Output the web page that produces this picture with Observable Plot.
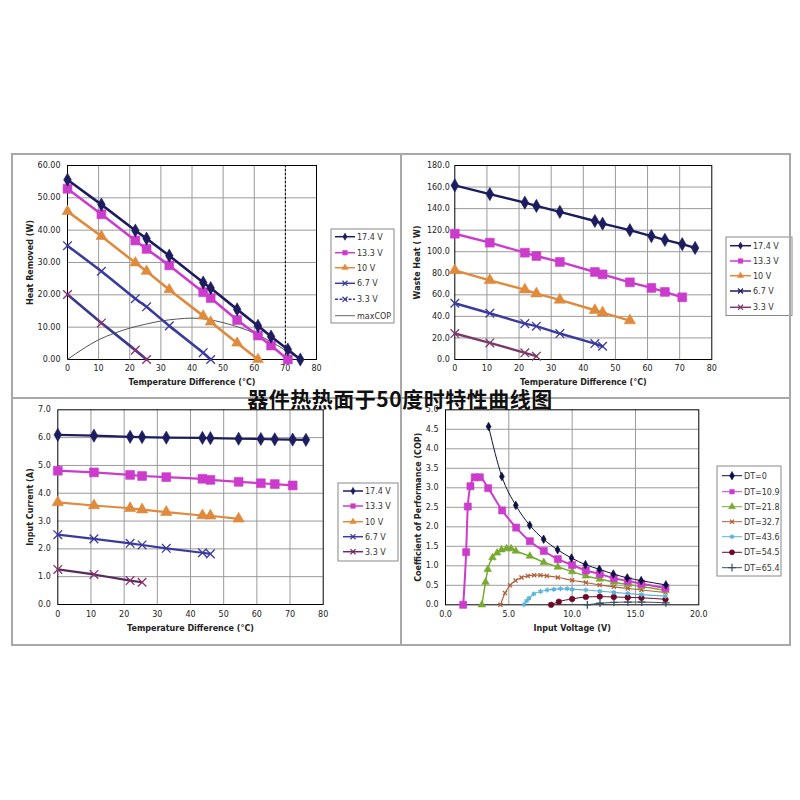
<!DOCTYPE html>
<html><head><meta charset="utf-8">
<script src="https://cdn.jsdelivr.net/npm/d3@7"></script>
<script src="https://cdn.jsdelivr.net/npm/@observablehq/plot@0.6"></script>
<style>
body{margin:0;background:#fff;width:800px;height:800px;position:relative;overflow:hidden;font-family:"DejaVu Sans",sans-serif}
.panel{position:absolute;overflow:hidden;background:#fff}
.line{position:absolute;background:#a8a8a8;z-index:4}
#title{position:absolute;left:0;width:800px;top:385px;text-align:center;font:bold 21px "Noto Sans CJK SC",sans-serif;color:#111;z-index:5;line-height:26px;letter-spacing:0.5px}
</style></head><body>
<div id="title">器件热热面于50度时特性曲线图</div>
<script>
// ---------- data ----------
const dtX = [0, 10.9, 21.8, 25.4, 32.7, 43.6, 46, 54.5, 61.2, 65.4, 70.8, 74.8];
const voltLabels = ["17.4 V", "13.3 V", "10 V", "6.7 V", "3.3 V"];

// Heat Removed (W)
const heat174 = [55.6, 47.9, 39.9, 37.4, 32.1, 23.8, 22.1, 15.5, 10.4, 7.1, 3.1, 0];
const heat133 = [52.8, 44.9, 36.8, 34.2, 29.1, 20.8, 19.0, 12.2, 7.4, 4.3, 0];
const heat10  = [45.8, 38.1, 29.9, 27.3, 21.6, 13.5, 11.6, 5.1, 0];
const heat67  = [35.2, 27.3, 18.8, 16.3, 10.4, 2.1, 0];
const heat33  = [20.1, 11.3, 2.9, 0];
const maxCopX = [0, 5, 10, 15, 20, 25, 30, 35, 40, 45, 50, 55, 60, 65, 70, 75];
const maxCopY = [0, 3.3, 6.1, 8.1, 9.7, 10.9, 11.9, 12.5, 12.8, 12.4, 11.4, 10.0, 8.2, 5.7, 2.9, 0];

// Waste Heat (W)
const waste174 = [161.5, 153.5, 145.5, 142.5, 137, 128.5, 126, 120, 114.5, 111, 107, 103.5];
const waste133 = [116.7, 108.4, 99.1, 96, 90.5, 81.2, 79, 71.6, 66.4, 62.7, 57.7];
const waste10  = [82.7, 73.5, 64.8, 61.1, 55.3, 45.7, 43.5, 36.1];
const waste67  = [52.2, 42.9, 33.3, 30.9, 24.1, 14.8, 12.3];
const waste33  = [24.1, 15.4, 6.2, 3.1];

// Input Current (A)
const cur174 = [6.10, 6.07, 6.03, 6.02, 6.00, 5.99, 5.98, 5.96, 5.95, 5.94, 5.93, 5.92];
const cur133 = [4.81, 4.75, 4.66, 4.62, 4.58, 4.52, 4.48, 4.41, 4.36, 4.33, 4.28];
const cur10  = [3.67, 3.56, 3.46, 3.41, 3.32, 3.20, 3.19, 3.08];
const cur67  = [2.51, 2.36, 2.20, 2.14, 2.02, 1.86, 1.82];
const cur33  = [1.26, 1.08, 0.86, 0.80];

// COP vs input voltage
const dtLabels = ["DT=0", "DT=10.9", "DT=21.8", "DT=32.7", "DT=43.6", "DT=54.5", "DT=65.4"];
const copV0  = [3.4, 4.45, 5.55, 6.65, 7.75, 8.85, 9.95, 11.05, 12.15, 13.25, 14.35, 15.45, 17.4];
const copY0  = [4.57, 3.29, 2.55, 2.04, 1.68, 1.41, 1.20, 1.03, 0.91, 0.79, 0.69, 0.62, 0.51];
const copV1  = [1.4, 1.63, 1.76, 1.97, 2.31, 2.71, 3.37, 4.47, 5.58, 6.66, 7.76, 8.87, 10.0, 11.08, 12.18, 13.29, 14.39, 15.47, 17.37];
const copY1  = [0, 1.35, 2.52, 3.04, 3.27, 3.27, 2.99, 2.42, 1.98, 1.63, 1.38, 1.17, 1.02, 0.88, 0.79, 0.68, 0.61, 0.54, 0.43];
const copV2  = [2.87, 3.16, 3.34, 3.71, 4.08, 4.42, 4.82, 5.18, 5.55, 6.66, 7.76, 8.87, 10.0, 11.08, 12.18, 13.29, 14.39, 15.47, 17.37];
const copY2  = [0, 0.58, 0.91, 1.21, 1.33, 1.41, 1.44, 1.44, 1.38, 1.25, 1.09, 0.97, 0.85, 0.74, 0.66, 0.58, 0.52, 0.47, 0.37];
const copV3  = [4.34, 4.7, 5.1, 5.53, 6.0, 6.5, 7.0, 7.5, 8.0, 8.87, 10.0, 11.08, 12.18, 13.29, 14.39, 15.47, 17.37];
const copY3  = [0, 0.3, 0.5, 0.62, 0.7, 0.74, 0.76, 0.76, 0.74, 0.70, 0.63, 0.57, 0.51, 0.46, 0.42, 0.38, 0.32];
const copV4  = [6.18, 6.4, 6.6, 6.97, 7.5, 8.03, 8.55, 9.08, 9.6, 10.0, 11.08, 12.18, 13.29, 14.39, 15.47, 17.37];
const copY4  = [0, 0.1, 0.17, 0.28, 0.34, 0.38, 0.40, 0.41, 0.41, 0.40, 0.38, 0.35, 0.32, 0.29, 0.26, 0.22];
const copV5  = [8.34, 8.95, 10.0, 11.08, 12.18, 13.29, 14.39, 15.47, 17.37];
const copY5  = [0, 0.08, 0.15, 0.20, 0.21, 0.20, 0.19, 0.18, 0.14];
const copV6  = [11.2, 12.2, 13.3, 14.4, 15.5, 17.4];
const copY6  = [0, 0.04, 0.06, 0.07, 0.07, 0.05];

// ---------- helpers ----------
const pts = (xs, ys) => ys.map((y, i) => ({x: xs[i], y}));
const symbolMap = {diamond: d3.symbolDiamond, square: d3.symbolSquare, triangle: d3.symbolTriangle,
  times: d3.symbolTimes, plus: d3.symbolPlus, asterisk: d3.symbolAsterisk, circle: d3.symbolCircle};
const strokeSyms = new Set(["times", "plus", "asterisk"]);

function seriesMarks(list, curve) {
  const m = [];
  for (const s of list) {
    m.push(Plot.line(s.data, {x: "x", y: "y", stroke: s.line || s.color, strokeWidth: s.lw, curve: curve || "linear"}));
    const stroked = strokeSyms.has(s.sym);
    m.push(Plot.dot(s.data, {x: "x", y: "y", symbol: s.sym, r: s.r,
      fill: stroked ? "none" : s.color, stroke: s.color, strokeWidth: stroked ? 1.3 : 0.6}));
  }
  return m;
}

function panel(left, top, w, h, cfg) {
  const div = document.createElement("div");
  div.className = "panel";
  Object.assign(div.style, {left: left + "px", top: top + "px", width: w + "px", height: h + "px"});
  const chart = Plot.plot({
    width: w, height: h,
    marginLeft: cfg.ml, marginRight: cfg.mr, marginTop: cfg.mt, marginBottom: cfg.mb,
    style: {fontFamily: "DejaVu Sans", fontSize: "8px", background: "transparent", color: "#222", overflow: "visible"},
    x: {domain: cfg.xd, ticks: cfg.xt, tickFormat: cfg.xf, tickSize: 0, tickPadding: cfg.xpad, label: null},
    y: {domain: cfg.yd, ticks: cfg.yt, tickFormat: cfg.yf, tickSize: 0, tickPadding: cfg.ypad, label: null},
    marks: [
      Plot.ruleX(cfg.xg, {stroke: "#9a9a9a", strokeWidth: 1}),
      Plot.ruleY(cfg.yg, {stroke: "#9a9a9a", strokeWidth: 1}),
      ...(cfg.extra || []),
      Plot.frame({stroke: "#000", strokeWidth: 1}),
      ...cfg.marks,
      Plot.text([cfg.xlabel], {text: d => d, frameAnchor: "bottom", lineAnchor: "middle", dy: cfg.xdy, fontWeight: "bold", fontSize: 8, fill: "#222"}),
      Plot.text([cfg.ylabel], {text: d => d, frameAnchor: "left", textAnchor: "middle", lineAnchor: "middle", dx: cfg.ydx, rotate: -90, fontWeight: "bold", fontSize: 8, fill: "#222"})
    ]
  });
  div.appendChild(chart);
  document.body.appendChild(div);
}

const navy = "#1c1c5e", mag = "#cc3ccc", orange = "#e08a3c", blue = "#3b3b9e", purple = "#8a3070";

// Panel 1: Heat Removed
panel(12, 154, 388, 244, {
  ml: 55, mr: 84, mt: 11, mb: 39,
  xd: [0, 80], xt: d3.range(0, 81, 10), xg: d3.range(10, 80, 10), xpad: 6,
  yd: [0, 60], yt: d3.range(0, 61, 10), yg: d3.range(10, 60, 10), yf: d3.format(".2f"), ypad: 7,
  xlabel: "Temperature Difference (°C)", xdy: 23,
  ylabel: "Heat Removed (W)", ydx: -37,
  extra: [Plot.ruleX([70], {stroke: "#000", strokeDasharray: "2,2"})],
  marks: [
    Plot.line(pts(maxCopX, maxCopY), {x: "x", y: "y", stroke: "#555", strokeWidth: 1, curve: "monotone-x"}),
    ...seriesMarks([
      {data: pts(dtX, heat33), color: purple, line: "#38388f", sym: "times", r: 4, lw: 2.6},
      {data: pts(dtX, heat67), color: blue, sym: "times", r: 4, lw: 2.6},
      {data: pts(dtX, heat10), color: orange, sym: "triangle", r: 4, lw: 2.6},
      {data: pts(dtX, heat133), color: mag, sym: "square", r: 5, lw: 2.6},
      {data: pts(dtX, heat174), color: navy, sym: "diamond", r: 4, lw: 2.6}
    ])
  ]
});

// Panel 2: Waste Heat
panel(401, 154, 389, 244, {
  ml: 53.3, mr: 78.7, mt: 11, mb: 39,
  xd: [0, 80], xt: d3.range(0, 81, 10), xg: d3.range(10, 80, 10), xpad: 6,
  yd: [0, 180], yt: d3.range(0, 181, 20), yg: d3.range(20, 180, 20), yf: d3.format(".1f"), ypad: 5,
  xlabel: "Temperature Difference (°C)", xdy: 23,
  ylabel: "Waste Heat ( W)", ydx: -37,
  marks: seriesMarks([
    {data: pts(dtX, waste33), color: "#7a3a6a", sym: "times", r: 4, lw: 2.4},
    {data: pts(dtX, waste67), color: blue, sym: "times", r: 4, lw: 2.4},
    {data: pts(dtX, waste10), color: orange, sym: "triangle", r: 4.2, lw: 2.4},
    {data: pts(dtX, waste133), color: mag, sym: "square", r: 5, lw: 2.4},
    {data: pts(dtX, waste174), color: navy, sym: "diamond", r: 4, lw: 2.4}
  ])
});

// Panel 3: Input Current
panel(12, 398, 388, 247, {
  ml: 45.3, mr: 77.3, mt: 11.3, mb: 41,
  xd: [0, 80], xt: d3.range(0, 81, 10), xg: d3.range(10, 80, 10), xpad: 7,
  yd: [0, 7], yt: d3.range(0, 7.01, 1), yg: d3.range(1, 7, 1), yf: d3.format(".1f"), ypad: 7,
  xlabel: "Temperature Difference (°C)", xdy: 24,
  ylabel: "Input Current (A)", ydx: -27,
  marks: seriesMarks([
    {data: pts(dtX, cur33), color: purple, line: "#5a2a5a", sym: "times", r: 4, lw: 2.2},
    {data: pts(dtX, cur67), color: blue, sym: "times", r: 4, lw: 2.2},
    {data: pts(dtX, cur10), color: orange, sym: "triangle", r: 4.2, lw: 2.2},
    {data: pts(dtX, cur133), color: mag, sym: "square", r: 5, lw: 2.2},
    {data: pts(dtX, cur174), color: navy, sym: "diamond", r: 4, lw: 2.2}
  ])
});

// Panel 4: COP
const copSeries = [
  {data: pts(copV6, copY6), color: "#3a5060", sym: "plus", r: 2.6, lw: 1},
  {data: pts(copV5, copY5), color: "#6a0a2a", sym: "circle", r: 2.8, lw: 1},
  {data: pts(copV4, copY4), color: "#5ab4d8", sym: "asterisk", r: 2.3, lw: 1.2},
  {data: pts(copV3, copY3), color: "#b0603a", sym: "times", r: 2, lw: 1.2},
  {data: pts(copV2, copY2), color: "#78aa30", sym: "triangle", r: 2.8, lw: 1.5},
  {data: pts(copV1, copY1), color: mag, sym: "square", r: 4, lw: 2},
  {data: pts(copV0, copY0), color: "#101040", sym: "diamond", r: 2.6, lw: 1}
];
panel(401, 398, 389, 247, {
  ml: 44, mr: 91.7, mt: 11.3, mb: 40.7,
  xd: [0, 20], xt: d3.range(0, 20.01, 5), xg: [5, 10, 15], xf: d3.format(".1f"), xpad: 7,
  yd: [0, 5], yt: d3.range(0, 5.01, 0.5), yg: d3.range(0.5, 5, 0.5), yf: d3.format(".1f"), ypad: 7,
  xlabel: "Input Voltage (V)", xdy: 24,
  ylabel: "Coefficient of Performance (COP)", ydx: -27,
  marks: seriesMarks(copSeries, "monotone-x")
});

// ---------- frame lines ----------
function line(l, t, w, h) {
  const d = document.createElement("div"); d.className = "line";
  Object.assign(d.style, {left: l + "px", top: t + "px", width: w + "px", height: h + "px"});
  document.body.appendChild(d);
}
line(12, 153, 779, 2); line(12, 644, 779, 2); line(11, 153, 2, 493); line(789, 153, 2, 493);
line(399.5, 153, 2, 493); line(12, 397, 779, 2);

// ---------- legends ----------
const ov = d3.select("body").append("svg").attr("width", 800).attr("height", 800)
  .style("position", "absolute").style("left", 0).style("top", 0).style("z-index", 3).style("overflow", "hidden");
function legend(box, rows, ys, lx1, lx2, tx) {
  ov.append("rect").attr("x", box[0]).attr("y", box[1]).attr("width", box[2]).attr("height", box[3])
    .attr("fill", "#fff").attr("stroke", "#888").attr("stroke-width", 1);
  rows.forEach((r, i) => {
    const y = ys[i];
    ov.append("line").attr("x1", lx1).attr("x2", lx2).attr("y1", y).attr("y2", y)
      .attr("stroke", r.line || r.color).attr("stroke-width", r.lw || 1.5).attr("stroke-dasharray", r.dash || null);
    if (r.sym) {
      const stroked = strokeSyms.has(r.sym);
      ov.append("path").attr("d", d3.symbol(symbolMap[r.sym], r.r * r.r * Math.PI)())
        .attr("transform", `translate(${(lx1 + lx2) / 2},${y})`)
        .attr("fill", stroked ? "none" : r.color).attr("stroke", r.color).attr("stroke-width", stroked ? 1.2 : 0.5);
    }
    ov.append("text").attr("x", tx).attr("y", y).attr("dy", "0.35em").text(r.label)
      .attr("font-family", "DejaVu Sans").attr("font-size", 8).attr("fill", "#333");
  });
}
legend([331, 229, 63, 94], [
  {label: voltLabels[0], color: navy, sym: "diamond", r: 2.2},
  {label: voltLabels[1], color: mag, sym: "square", r: 2.6},
  {label: voltLabels[2], color: orange, sym: "triangle", r: 2.4},
  {label: voltLabels[3], color: blue, sym: "times", r: 2.4},
  {label: voltLabels[4], color: "#38388f", sym: "times", r: 2.4, dash: "3,1.5"},
  {label: "maxCOP", color: "#666", lw: 1}
], [236.7, 252.7, 267.7, 283.3, 299.3, 315.7], 335, 355, 357);
legend([726, 237, 66, 78.5], [
  {label: voltLabels[0], color: navy, sym: "diamond", r: 2.2},
  {label: voltLabels[1], color: mag, sym: "square", r: 2.6},
  {label: voltLabels[2], color: orange, sym: "triangle", r: 2.4},
  {label: voltLabels[3], color: navy, sym: "times", r: 2.4},
  {label: voltLabels[4], color: "#7a3a6a", sym: "times", r: 2.4}
], [245.7, 261, 275.7, 291, 307.3], 730, 751, 753);
legend([338, 483, 60, 78], [
  {label: voltLabels[0], color: navy, sym: "diamond", r: 2.2},
  {label: voltLabels[1], color: mag, sym: "square", r: 2.6},
  {label: voltLabels[2], color: orange, sym: "triangle", r: 2.4},
  {label: voltLabels[3], color: blue, sym: "times", r: 2.4},
  {label: voltLabels[4], color: "#6a2a6a", sym: "times", r: 2.4}
], [491, 506, 521.7, 536.7, 551.7], 343, 363, 365);
const legRev = copSeries.slice().reverse();
legend([717, 466, 64, 110], legRev.map((s, i) => ({label: dtLabels[i], color: s.color, sym: s.sym, r: Math.min(s.r, 2.6), lw: 1})),
  [475.7, 491.7, 506.7, 521.7, 536.7, 552.3, 567.7], 722, 742, 744);
</script>
</body></html>
